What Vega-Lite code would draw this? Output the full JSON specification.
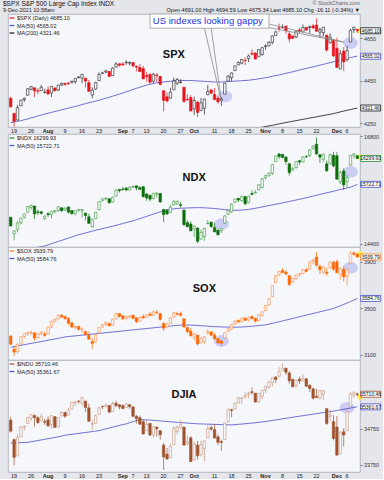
{
"$schema": "https://vega.github.io/schema/vega-lite/v6.json",
"background": "#e4e6ec",
"padding": {"left": 3, "top": 0, "right": 0, "bottom": 0},
"config": {
 "font": "Liberation Sans",
 "view": {"fill": "#f6f7fb", "stroke": "#a4a8b2", "strokeWidth": 0.8},
 "axis": {"labelFont": "Liberation Sans", "labelColor": "#222", "grid": false, "domain": false, "tickColor": "#777", "tickSize": 2, "labelFontSize": 5.3, "title": null},
 "axisY": {"format": "d", "labelOverlap": false, "labelFontSize": 5.4, "labelPadding": 1.5, "labelColor": "#333"},
 "legend": {"orient": "top-left", "title": null, "offset": 1, "padding": 0, "labelFontSize": 5.5, "symbolSize": 22, "symbolStrokeWidth": 1.2, "rowPadding": 0.5, "labelOffset": 2, "symbolType": "stroke", "labelLimit": 200, "labelColor": "#222"}
},
"title": {"text": "$SPX S&P 500 Large Cap Index INDX", "subtitle": "9-Dec-2021 10:58am", "anchor": "start", "frame": "group", "fontSize": 6.5, "fontWeight": "normal", "subtitleFontSize": 5.5, "subtitlePadding": 0.5, "offset": 0, "dx": -5, "dy": 13, "color": "#111", "subtitleColor": "#222"},
"datasets": {
"spx": [
{"d":"2021-07-16","o":4367.4,"h":4375.1,"l":4322.5,"c":4327.2,"m":4252},
{"d":"2021-07-19","o":4296.4,"h":4296.4,"l":4233.1,"c":4258.5,"m":4256},
{"d":"2021-07-20","o":4265.1,"h":4336.8,"l":4262.0,"c":4323.1,"m":4259},
{"d":"2021-07-21","o":4331.1,"h":4359.7,"l":4331.1,"c":4358.7,"m":4262},
{"d":"2021-07-22","o":4361.3,"h":4369.9,"l":4350.1,"c":4367.5,"m":4266},
{"d":"2021-07-23","o":4381.2,"h":4415.2,"l":4381.2,"c":4411.8,"m":4270},
{"d":"2021-07-26","o":4409.6,"h":4422.7,"l":4405.4,"c":4422.3,"m":4275},
{"d":"2021-07-27","o":4416.4,"h":4416.4,"l":4372.5,"c":4401.5,"m":4279},
{"d":"2021-07-28","o":4402.9,"h":4415.5,"l":4387.0,"c":4400.6,"m":4284},
{"d":"2021-07-29","o":4403.6,"h":4429.9,"l":4403.6,"c":4419.2,"m":4288},
{"d":"2021-07-30","o":4395.1,"h":4412.3,"l":4389.9,"c":4395.3,"m":4293},
{"d":"2021-08-02","o":4406.9,"h":4422.2,"l":4384.8,"c":4387.2,"m":4297},
{"d":"2021-08-03","o":4392.7,"h":4423.8,"l":4373.0,"c":4423.2,"m":4301},
{"d":"2021-08-04","o":4415.9,"h":4416.2,"l":4400.2,"c":4402.7,"m":4305},
{"d":"2021-08-05","o":4405.4,"h":4430.0,"l":4402.6,"c":4429.1,"m":4309},
{"d":"2021-08-06","o":4429.1,"h":4440.8,"l":4425.1,"c":4436.5,"m":4313},
{"d":"2021-08-09","o":4437.8,"h":4439.4,"l":4424.7,"c":4432.4,"m":4317},
{"d":"2021-08-10","o":4438.1,"h":4445.2,"l":4430.0,"c":4436.8,"m":4321},
{"d":"2021-08-11","o":4442.2,"h":4449.4,"l":4436.4,"c":4447.7,"m":4325},
{"d":"2021-08-12","o":4446.1,"h":4461.8,"l":4435.5,"c":4460.8,"m":4329},
{"d":"2021-08-13","o":4464.8,"h":4468.4,"l":4460.1,"c":4468.0,"m":4333},
{"d":"2021-08-16","o":4461.7,"h":4480.3,"l":4437.7,"c":4479.7,"m":4338},
{"d":"2021-08-17","o":4462.1,"h":4462.1,"l":4417.8,"c":4448.1,"m":4342},
{"d":"2021-08-18","o":4440.9,"h":4454.3,"l":4397.6,"c":4400.3,"m":4346},
{"d":"2021-08-19","o":4382.4,"h":4418.6,"l":4367.7,"c":4405.8,"m":4350},
{"d":"2021-08-20","o":4410.6,"h":4444.4,"l":4406.8,"c":4441.7,"m":4354},
{"d":"2021-08-23","o":4450.3,"h":4489.9,"l":4450.3,"c":4479.5,"m":4358},
{"d":"2021-08-24","o":4484.4,"h":4492.8,"l":4482.7,"c":4486.2,"m":4363},
{"d":"2021-08-25","o":4490.5,"h":4501.7,"l":4485.7,"c":4496.2,"m":4368},
{"d":"2021-08-26","o":4493.8,"h":4495.9,"l":4468.9,"c":4470.0,"m":4372},
{"d":"2021-08-27","o":4474.1,"h":4513.3,"l":4474.1,"c":4509.4,"m":4377},
{"d":"2021-08-30","o":4513.8,"h":4537.4,"l":4513.8,"c":4528.8,"m":4382},
{"d":"2021-08-31","o":4529.8,"h":4531.4,"l":4515.8,"c":4522.7,"m":4387},
{"d":"2021-09-01","o":4528.8,"h":4537.1,"l":4522.0,"c":4524.1,"m":4392},
{"d":"2021-09-02","o":4534.5,"h":4545.9,"l":4524.7,"c":4536.9,"m":4398},
{"d":"2021-09-03","o":4532.4,"h":4541.5,"l":4521.9,"c":4535.4,"m":4403},
{"d":"2021-09-07","o":4535.4,"h":4535.4,"l":4513.0,"c":4520.0,"m":4409},
{"d":"2021-09-08","o":4518.1,"h":4521.8,"l":4493.9,"c":4514.1,"m":4414},
{"d":"2021-09-09","o":4513.0,"h":4529.9,"l":4492.1,"c":4493.3,"m":4419},
{"d":"2021-09-10","o":4506.9,"h":4520.5,"l":4457.7,"c":4458.6,"m":4424},
{"d":"2021-09-13","o":4474.8,"h":4492.0,"l":4445.7,"c":4468.7,"m":4429},
{"d":"2021-09-14","o":4479.3,"h":4485.7,"l":4435.5,"c":4443.1,"m":4433},
{"d":"2021-09-15","o":4447.5,"h":4486.9,"l":4438.4,"c":4480.7,"m":4437},
{"d":"2021-09-16","o":4477.1,"h":4485.9,"l":4443.8,"c":4473.8,"m":4440},
{"d":"2021-09-17","o":4469.7,"h":4471.5,"l":4427.8,"c":4433.0,"m":4442},
{"d":"2021-09-20","o":4402.9,"h":4402.9,"l":4305.9,"c":4357.7,"m":4444},
{"d":"2021-09-21","o":4374.5,"h":4394.9,"l":4348.0,"c":4354.2,"m":4446},
{"d":"2021-09-22","o":4367.4,"h":4416.8,"l":4367.4,"c":4395.6,"m":4447},
{"d":"2021-09-23","o":4406.8,"h":4465.4,"l":4406.8,"c":4449.0,"m":4449},
{"d":"2021-09-24","o":4438.0,"h":4463.1,"l":4430.3,"c":4455.5,"m":4450},
{"d":"2021-09-27","o":4442.1,"h":4457.3,"l":4436.2,"c":4443.1,"m":4451},
{"d":"2021-09-28","o":4419.5,"h":4419.5,"l":4346.3,"c":4352.6,"m":4451},
{"d":"2021-09-29","o":4362.4,"h":4385.6,"l":4355.1,"c":4359.5,"m":4451},
{"d":"2021-09-30","o":4370.7,"h":4382.6,"l":4306.2,"c":4307.5,"m":4451},
{"d":"2021-10-01","o":4317.2,"h":4375.2,"l":4288.5,"c":4357.0,"m":4450},
{"d":"2021-10-04","o":4348.8,"h":4355.5,"l":4278.9,"c":4300.5,"m":4449},
{"d":"2021-10-05","o":4309.9,"h":4369.2,"l":4309.9,"c":4345.7,"m":4448},
{"d":"2021-10-06","o":4319.6,"h":4365.6,"l":4290.5,"c":4363.6,"m":4447},
{"d":"2021-10-07","o":4383.7,"h":4430.0,"l":4383.7,"c":4399.8,"m":4446},
{"d":"2021-10-08","o":4406.5,"h":4412.0,"l":4386.2,"c":4391.3,"m":4445},
{"d":"2021-10-11","o":4385.4,"h":4415.9,"l":4360.6,"c":4361.2,"m":4444},
{"d":"2021-10-12","o":4368.3,"h":4374.9,"l":4342.1,"c":4350.7,"m":4444},
{"d":"2021-10-13","o":4358.0,"h":4372.9,"l":4329.9,"c":4363.8,"m":4444},
{"d":"2021-10-14","o":4386.8,"h":4439.7,"l":4386.8,"c":4438.3,"m":4445},
{"d":"2021-10-15","o":4447.7,"h":4475.8,"l":4447.7,"c":4471.4,"m":4446},
{"d":"2021-10-18","o":4463.7,"h":4488.8,"l":4447.5,"c":4486.5,"m":4447},
{"d":"2021-10-19","o":4497.3,"h":4520.4,"l":4496.4,"c":4519.6,"m":4448},
{"d":"2021-10-20","o":4524.4,"h":4540.9,"l":4524.4,"c":4536.2,"m":4449},
{"d":"2021-10-21","o":4532.2,"h":4551.4,"l":4526.9,"c":4549.8,"m":4450},
{"d":"2021-10-22","o":4546.1,"h":4559.7,"l":4524.0,"c":4544.9,"m":4451},
{"d":"2021-10-25","o":4553.7,"h":4572.6,"l":4537.4,"c":4566.5,"m":4452,"m2":4218},
{"d":"2021-10-26","o":4578.7,"h":4598.5,"l":4569.2,"c":4574.8,"m":4454,"m2":4221},
{"d":"2021-10-27","o":4580.2,"h":4584.6,"l":4551.7,"c":4551.7,"m":4456,"m2":4224},
{"d":"2021-10-28","o":4562.8,"h":4597.6,"l":4562.8,"c":4596.4,"m":4459,"m2":4228},
{"d":"2021-10-29","o":4572.9,"h":4608.1,"l":4567.6,"c":4605.4,"m":4461,"m2":4231},
{"d":"2021-11-01","o":4610.6,"h":4620.3,"l":4595.1,"c":4613.7,"m":4464,"m2":4234},
{"d":"2021-11-02","o":4613.3,"h":4635.2,"l":4613.3,"c":4630.7,"m":4467,"m2":4237},
{"d":"2021-11-03","o":4630.7,"h":4663.5,"l":4621.2,"c":4660.6,"m":4471,"m2":4240},
{"d":"2021-11-04","o":4662.9,"h":4683.0,"l":4662.6,"c":4680.1,"m":4474,"m2":4243},
{"d":"2021-11-05","o":4699.3,"h":4718.5,"l":4681.3,"c":4697.5,"m":4477,"m2":4247},
{"d":"2021-11-08","o":4701.5,"h":4714.9,"l":4694.4,"c":4701.7,"m":4481,"m2":4250},
{"d":"2021-11-09","o":4707.3,"h":4708.5,"l":4670.9,"c":4685.3,"m":4485,"m2":4253},
{"d":"2021-11-10","o":4670.3,"h":4684.9,"l":4630.9,"c":4646.7,"m":4488,"m2":4256},
{"d":"2021-11-11","o":4659.4,"h":4664.6,"l":4648.3,"c":4649.3,"m":4492,"m2":4259},
{"d":"2021-11-12","o":4655.2,"h":4688.5,"l":4650.9,"c":4682.9,"m":4496,"m2":4262},
{"d":"2021-11-15","o":4689.3,"h":4697.4,"l":4672.9,"c":4682.8,"m":4500,"m2":4265},
{"d":"2021-11-16","o":4679.4,"h":4715.0,"l":4679.4,"c":4700.9,"m":4504,"m2":4268},
{"d":"2021-11-17","o":4701.5,"h":4701.5,"l":4684.4,"c":4688.7,"m":4508,"m2":4271},
{"d":"2021-11-18","o":4700.7,"h":4708.8,"l":4672.8,"c":4704.5,"m":4512,"m2":4274},
{"d":"2021-11-19","o":4708.4,"h":4717.8,"l":4694.2,"c":4698.0,"m":4515,"m2":4277},
{"d":"2021-11-22","o":4712.0,"h":4743.8,"l":4682.2,"c":4682.9,"m":4519,"m2":4280},
{"d":"2021-11-23","o":4678.5,"h":4699.4,"l":4652.7,"c":4690.7,"m":4523,"m2":4283},
{"d":"2021-11-24","o":4675.8,"h":4702.9,"l":4659.9,"c":4701.5,"m":4527,"m2":4286},
{"d":"2021-11-26","o":4664.6,"h":4664.6,"l":4585.4,"c":4594.6,"m":4531,"m2":4289},
{"d":"2021-11-29","o":4628.8,"h":4673.0,"l":4625.3,"c":4655.3,"m":4535,"m2":4292},
{"d":"2021-11-30","o":4640.2,"h":4646.0,"l":4560.0,"c":4567.0,"m":4539,"m2":4295},
{"d":"2021-12-01","o":4602.8,"h":4652.9,"l":4510.3,"c":4513.0,"m":4543,"m2":4299},
{"d":"2021-12-02","o":4504.7,"h":4595.5,"l":4504.7,"c":4577.1,"m":4547,"m2":4303},
{"d":"2021-12-03","o":4589.5,"h":4608.0,"l":4495.1,"c":4538.4,"m":4551,"m2":4307},
{"d":"2021-12-06","o":4548.4,"h":4612.6,"l":4540.5,"c":4591.7,"m":4555,"m2":4311},
{"d":"2021-12-07","o":4632.0,"h":4694.0,"l":4632.0,"c":4686.8,"m":4559,"m2":4314},
{"d":"2021-12-08","o":4690.9,"h":4705.1,"l":4674.5,"c":4701.2,"m":4562,"m2":4318},
{"d":"2021-12-09","o":4691.0,"h":4694.6,"l":4675.3,"c":4685.1,"m":4566,"m2":4321}
],
"ndx": [
{"d":"2021-07-16","o":14990,"h":15000,"l":14780,"c":14796,"m":14200},
{"d":"2021-07-19","o":14620,"h":14700,"l":14480,"c":14684,"m":14215},
{"d":"2021-07-20","o":14720,"h":14900,"l":14650,"c":14862,"m":14230},
{"d":"2021-07-21","o":14870,"h":14980,"l":14830,"c":14974,"m":14245},
{"d":"2021-07-22","o":14990,"h":15070,"l":14960,"c":15063,"m":14260},
{"d":"2021-07-23","o":15100,"h":15235,"l":15090,"c":15228,"m":14275},
{"d":"2021-07-26","o":15210,"h":15265,"l":15160,"c":15258,"m":14290},
{"d":"2021-07-27","o":15240,"h":15245,"l":14950,"c":15063,"m":14305},
{"d":"2021-07-28","o":15110,"h":15160,"l":15040,"c":15095,"m":14320},
{"d":"2021-07-29","o":15110,"h":15135,"l":15050,"c":15079,"m":14335},
{"d":"2021-07-30","o":14960,"h":15040,"l":14930,"c":15011,"m":14350},
{"d":"2021-08-02","o":15070,"h":15100,"l":15000,"c":15047,"m":14375},
{"d":"2021-08-03","o":15050,"h":15125,"l":14960,"c":15123,"m":14400},
{"d":"2021-08-04","o":15110,"h":15150,"l":15090,"c":15138,"m":14425},
{"d":"2021-08-05","o":15140,"h":15230,"l":15120,"c":15224,"m":14450},
{"d":"2021-08-06","o":15200,"h":15210,"l":15110,"c":15136,"m":14475},
{"d":"2021-08-09","o":15150,"h":15210,"l":15130,"c":15193,"m":14500},
{"d":"2021-08-10","o":15220,"h":15230,"l":15070,"c":15103,"m":14525},
{"d":"2021-08-11","o":15140,"h":15150,"l":15040,"c":15072,"m":14550},
{"d":"2021-08-12","o":15070,"h":15140,"l":15030,"c":15136,"m":14575},
{"d":"2021-08-13","o":15150,"h":15170,"l":15110,"c":15164,"m":14600},
{"d":"2021-08-16","o":15130,"h":15170,"l":14980,"c":15162,"m":14620},
{"d":"2021-08-17","o":15080,"h":15090,"l":14920,"c":15027,"m":14640},
{"d":"2021-08-18","o":15000,"h":15070,"l":14850,"c":14855,"m":14660},
{"d":"2021-08-19","o":14780,"h":14960,"l":14760,"c":14935,"m":14680},
{"d":"2021-08-20","o":14960,"h":15110,"l":14950,"c":15100,"m":14700},
{"d":"2021-08-23","o":15160,"h":15350,"l":15150,"c":15339,"m":14718},
{"d":"2021-08-24","o":15360,"h":15410,"l":15340,"c":15398,"m":14736},
{"d":"2021-08-25","o":15400,"h":15430,"l":15370,"c":15417,"m":14754},
{"d":"2021-08-26","o":15400,"h":15420,"l":15300,"c":15311,"m":14772},
{"d":"2021-08-27","o":15330,"h":15450,"l":15320,"c":15436,"m":14790},
{"d":"2021-08-30","o":15460,"h":15610,"l":15460,"c":15594,"m":14810},
{"d":"2021-08-31","o":15610,"h":15615,"l":15540,"c":15582,"m":14830},
{"d":"2021-09-01","o":15620,"h":15670,"l":15590,"c":15605,"m":14850},
{"d":"2021-09-02","o":15640,"h":15660,"l":15570,"c":15598,"m":14870},
{"d":"2021-09-03","o":15600,"h":15680,"l":15580,"c":15653,"m":14890},
{"d":"2021-09-07","o":15660,"h":15700,"l":15640,"c":15675,"m":14910},
{"d":"2021-09-08","o":15690,"h":15700,"l":15590,"c":15646,"m":14935},
{"d":"2021-09-09","o":15650,"h":15690,"l":15600,"c":15612,"m":14960},
{"d":"2021-09-10","o":15670,"h":15690,"l":15430,"c":15449,"m":14985},
{"d":"2021-09-13","o":15510,"h":15520,"l":15360,"c":15419,"m":15010},
{"d":"2021-09-14","o":15480,"h":15490,"l":15340,"c":15394,"m":15035},
{"d":"2021-09-15","o":15410,"h":15530,"l":15380,"c":15525,"m":15060},
{"d":"2021-09-16","o":15500,"h":15550,"l":15430,"c":15527,"m":15085},
{"d":"2021-09-17","o":15520,"h":15530,"l":15310,"c":15331,"m":15110},
{"d":"2021-09-20","o":15160,"h":15180,"l":14880,"c":15051,"m":15135},
{"d":"2021-09-21","o":15140,"h":15170,"l":15040,"c":15066,"m":15160},
{"d":"2021-09-22","o":15100,"h":15270,"l":15090,"c":15216,"m":15170},
{"d":"2021-09-23","o":15270,"h":15370,"l":15250,"c":15342,"m":15178},
{"d":"2021-09-24","o":15290,"h":15360,"l":15270,"c":15345,"m":15185},
{"d":"2021-09-27","o":15270,"h":15330,"l":15200,"c":15252,"m":15190},
{"d":"2021-09-28","o":15150,"h":15160,"l":14800,"c":14824,"m":15194},
{"d":"2021-09-29","o":14870,"h":14920,"l":14760,"c":14780,"m":15197},
{"d":"2021-09-30","o":14840,"h":14900,"l":14680,"c":14689,"m":15200},
{"d":"2021-10-01","o":14730,"h":14810,"l":14550,"c":14791,"m":15202},
{"d":"2021-10-04","o":14750,"h":14760,"l":14410,"c":14455,"m":15204},
{"d":"2021-10-05","o":14500,"h":14720,"l":14500,"c":14652,"m":15203},
{"d":"2021-10-06","o":14560,"h":14760,"l":14460,"c":14743,"m":15200},
{"d":"2021-10-07","o":14850,"h":14930,"l":14830,"c":14855,"m":15196},
{"d":"2021-10-08","o":14880,"h":14890,"l":14760,"c":14780,"m":15190},
{"d":"2021-10-11","o":14760,"h":14860,"l":14660,"c":14664,"m":15184},
{"d":"2021-10-12","o":14700,"h":14720,"l":14580,"c":14602,"m":15176},
{"d":"2021-10-13","o":14690,"h":14750,"l":14640,"c":14736,"m":15168},
{"d":"2021-10-14","o":14860,"h":15030,"l":14850,"c":15020,"m":15160},
{"d":"2021-10-15","o":15060,"h":15150,"l":15040,"c":15146,"m":15153},
{"d":"2021-10-18","o":15110,"h":15300,"l":15090,"c":15283,"m":15147},
{"d":"2021-10-19","o":15320,"h":15400,"l":15310,"c":15397,"m":15145},
{"d":"2021-10-20","o":15410,"h":15420,"l":15330,"c":15374,"m":15146},
{"d":"2021-10-21","o":15360,"h":15470,"l":15340,"c":15460,"m":15150},
{"d":"2021-10-22","o":15450,"h":15470,"l":15260,"c":15290,"m":15156},
{"d":"2021-10-25","o":15320,"h":15470,"l":15300,"c":15457,"m":15165},
{"d":"2021-10-26","o":15520,"h":15590,"l":15480,"c":15500,"m":15176},
{"d":"2021-10-27","o":15530,"h":15600,"l":15520,"c":15545,"m":15190},
{"d":"2021-10-28","o":15600,"h":15720,"l":15590,"c":15714,"m":15205},
{"d":"2021-10-29","o":15650,"h":15860,"l":15640,"c":15850,"m":15220},
{"d":"2021-11-01","o":15870,"h":15940,"l":15830,"c":15918,"m":15235},
{"d":"2021-11-02","o":15920,"h":15990,"l":15890,"c":15975,"m":15250},
{"d":"2021-11-03","o":15970,"h":16180,"l":15930,"c":16163,"m":15265},
{"d":"2021-11-04","o":16230,"h":16360,"l":16220,"c":16352,"m":15280},
{"d":"2021-11-05","o":16400,"h":16420,"l":16290,"c":16345,"m":15295},
{"d":"2021-11-08","o":16390,"h":16400,"l":16300,"c":16322,"m":15310},
{"d":"2021-11-09","o":16330,"h":16350,"l":16160,"c":16232,"m":15326},
{"d":"2021-11-10","o":16180,"h":16200,"l":15920,"c":15986,"m":15342},
{"d":"2021-11-11","o":16040,"h":16110,"l":16030,"c":16071,"m":15358},
{"d":"2021-11-12","o":16100,"h":16240,"l":16070,"c":16229,"m":15374},
{"d":"2021-11-15","o":16250,"h":16270,"l":16160,"c":16223,"m":15390},
{"d":"2021-11-16","o":16220,"h":16350,"l":16210,"c":16331,"m":15408},
{"d":"2021-11-17","o":16340,"h":16380,"l":16310,"c":16339,"m":15426},
{"d":"2021-11-18","o":16370,"h":16510,"l":16330,"c":16494,"m":15444},
{"d":"2021-11-19","o":16520,"h":16600,"l":16500,"c":16573,"m":15462},
{"d":"2021-11-22","o":16620,"h":16765,"l":16390,"c":16398,"m":15480},
{"d":"2021-11-23","o":16380,"h":16400,"l":16200,"c":16331,"m":15498},
{"d":"2021-11-24","o":16280,"h":16410,"l":16220,"c":16396,"m":15516},
{"d":"2021-11-26","o":16180,"h":16250,"l":16000,"c":16026,"m":15534},
{"d":"2021-11-29","o":16180,"h":16410,"l":16170,"c":16383,"m":15552},
{"d":"2021-11-30","o":16370,"h":16450,"l":16100,"c":16135,"m":15570},
{"d":"2021-12-01","o":16360,"h":16440,"l":15830,"c":15838,"m":15588},
{"d":"2021-12-02","o":15780,"h":16030,"l":15730,"c":15987,"m":15606},
{"d":"2021-12-03","o":16020,"h":16080,"l":15600,"c":15712,"m":15624},
{"d":"2021-12-06","o":15790,"h":15930,"l":15650,"c":15875,"m":15642},
{"d":"2021-12-07","o":16150,"h":16380,"l":16140,"c":16363,"m":15660},
{"d":"2021-12-08","o":16370,"h":16420,"l":16300,"c":16398,"m":15690},
{"d":"2021-12-09","o":16360,"h":16370,"l":16290,"c":16300,"m":15720}
],
"sox": [
{"d":"2021-07-16","o":3262,"h":3270,"l":3185,"c":3192,"m":3166},
{"d":"2021-07-19","o":3150,"h":3180,"l":3090,"c":3125,"m":3172},
{"d":"2021-07-20","o":3130,"h":3200,"l":3110,"c":3190,"m":3177},
{"d":"2021-07-21","o":3195,"h":3262,"l":3190,"c":3255,"m":3183},
{"d":"2021-07-22","o":3258,"h":3290,"l":3240,"c":3280,"m":3188},
{"d":"2021-07-23","o":3285,"h":3300,"l":3262,"c":3290,"m":3194},
{"d":"2021-07-26","o":3288,"h":3310,"l":3270,"c":3295,"m":3199},
{"d":"2021-07-27","o":3290,"h":3292,"l":3220,"c":3245,"m":3205},
{"d":"2021-07-28","o":3250,"h":3290,"l":3240,"c":3280,"m":3210},
{"d":"2021-07-29","o":3285,"h":3305,"l":3270,"c":3298,"m":3216},
{"d":"2021-07-30","o":3280,"h":3300,"l":3255,"c":3268,"m":3221},
{"d":"2021-08-02","o":3280,"h":3345,"l":3275,"c":3338,"m":3227},
{"d":"2021-08-03","o":3340,"h":3395,"l":3330,"c":3388,"m":3232},
{"d":"2021-08-04","o":3390,"h":3415,"l":3380,"c":3405,"m":3238},
{"d":"2021-08-05","o":3410,"h":3448,"l":3402,"c":3440,"m":3243},
{"d":"2021-08-06","o":3440,"h":3452,"l":3418,"c":3425,"m":3249},
{"d":"2021-08-09","o":3428,"h":3440,"l":3400,"c":3412,"m":3255},
{"d":"2021-08-10","o":3415,"h":3420,"l":3360,"c":3372,"m":3258},
{"d":"2021-08-11","o":3375,"h":3385,"l":3330,"c":3340,"m":3261},
{"d":"2021-08-12","o":3335,"h":3355,"l":3318,"c":3345,"m":3264},
{"d":"2021-08-13","o":3345,"h":3350,"l":3312,"c":3320,"m":3267},
{"d":"2021-08-16","o":3315,"h":3338,"l":3290,"c":3326,"m":3270},
{"d":"2021-08-17","o":3300,"h":3310,"l":3262,"c":3275,"m":3273},
{"d":"2021-08-18","o":3270,"h":3300,"l":3230,"c":3235,"m":3276},
{"d":"2021-08-19","o":3215,"h":3245,"l":3150,"c":3200,"m":3279},
{"d":"2021-08-20","o":3210,"h":3280,"l":3205,"c":3275,"m":3282},
{"d":"2021-08-23","o":3290,"h":3340,"l":3285,"c":3335,"m":3285},
{"d":"2021-08-24","o":3340,"h":3365,"l":3335,"c":3358,"m":3288},
{"d":"2021-08-25","o":3360,"h":3385,"l":3350,"c":3378,"m":3291},
{"d":"2021-08-26","o":3370,"h":3378,"l":3345,"c":3350,"m":3294},
{"d":"2021-08-27","o":3355,"h":3410,"l":3352,"c":3405,"m":3297},
{"d":"2021-08-30","o":3410,"h":3462,"l":3405,"c":3455,"m":3300},
{"d":"2021-08-31","o":3455,"h":3460,"l":3420,"c":3430,"m":3303},
{"d":"2021-09-01","o":3435,"h":3445,"l":3400,"c":3410,"m":3306},
{"d":"2021-09-02","o":3415,"h":3438,"l":3395,"c":3428,"m":3309},
{"d":"2021-09-03","o":3425,"h":3440,"l":3412,"c":3435,"m":3312},
{"d":"2021-09-07","o":3440,"h":3448,"l":3405,"c":3415,"m":3315},
{"d":"2021-09-08","o":3418,"h":3425,"l":3375,"c":3385,"m":3318},
{"d":"2021-09-09","o":3390,"h":3430,"l":3385,"c":3422,"m":3321},
{"d":"2021-09-10","o":3430,"h":3450,"l":3410,"c":3418,"m":3324},
{"d":"2021-09-13","o":3425,"h":3450,"l":3420,"c":3445,"m":3327},
{"d":"2021-09-14","o":3450,"h":3470,"l":3430,"c":3440,"m":3330},
{"d":"2021-09-15","o":3440,"h":3478,"l":3435,"c":3470,"m":3333},
{"d":"2021-09-16","o":3468,"h":3485,"l":3450,"c":3465,"m":3336},
{"d":"2021-09-17","o":3455,"h":3460,"l":3395,"c":3405,"m":3339},
{"d":"2021-09-20","o":3370,"h":3385,"l":3305,"c":3330,"m":3342},
{"d":"2021-09-21","o":3340,"h":3375,"l":3330,"c":3365,"m":3345},
{"d":"2021-09-22","o":3370,"h":3425,"l":3365,"c":3418,"m":3348},
{"d":"2021-09-23","o":3425,"h":3470,"l":3420,"c":3462,"m":3351},
{"d":"2021-09-24","o":3455,"h":3470,"l":3435,"c":3450,"m":3354},
{"d":"2021-09-27","o":3455,"h":3472,"l":3430,"c":3440,"m":3356},
{"d":"2021-09-28","o":3410,"h":3412,"l":3330,"c":3340,"m":3357},
{"d":"2021-09-29","o":3335,"h":3345,"l":3285,"c":3300,"m":3357},
{"d":"2021-09-30","o":3305,"h":3330,"l":3260,"c":3265,"m":3356},
{"d":"2021-10-01","o":3250,"h":3290,"l":3225,"c":3280,"m":3355},
{"d":"2021-10-04","o":3270,"h":3275,"l":3180,"c":3195,"m":3353},
{"d":"2021-10-05","o":3205,"h":3250,"l":3200,"c":3240,"m":3351},
{"d":"2021-10-06","o":3215,"h":3260,"l":3195,"c":3255,"m":3349},
{"d":"2021-10-07","o":3285,"h":3320,"l":3275,"c":3300,"m":3347},
{"d":"2021-10-08","o":3298,"h":3305,"l":3260,"c":3270,"m":3345},
{"d":"2021-10-11","o":3270,"h":3290,"l":3235,"c":3238,"m":3343},
{"d":"2021-10-12","o":3240,"h":3245,"l":3195,"c":3205,"m":3342},
{"d":"2021-10-13","o":3220,"h":3230,"l":3180,"c":3200,"m":3341},
{"d":"2021-10-14","o":3245,"h":3295,"l":3240,"c":3290,"m":3340},
{"d":"2021-10-15","o":3300,"h":3330,"l":3295,"c":3325,"m":3339},
{"d":"2021-10-18","o":3320,"h":3365,"l":3310,"c":3360,"m":3338},
{"d":"2021-10-19","o":3365,"h":3395,"l":3360,"c":3390,"m":3338},
{"d":"2021-10-20","o":3395,"h":3405,"l":3370,"c":3385,"m":3339},
{"d":"2021-10-21","o":3385,"h":3420,"l":3380,"c":3415,"m":3340},
{"d":"2021-10-22","o":3415,"h":3425,"l":3390,"c":3398,"m":3342},
{"d":"2021-10-25","o":3400,"h":3430,"l":3390,"c":3420,"m":3344},
{"d":"2021-10-26","o":3430,"h":3440,"l":3405,"c":3412,"m":3346},
{"d":"2021-10-27","o":3415,"h":3418,"l":3380,"c":3390,"m":3349},
{"d":"2021-10-28","o":3395,"h":3450,"l":3392,"c":3445,"m":3352},
{"d":"2021-10-29","o":3440,"h":3475,"l":3430,"c":3470,"m":3355},
{"d":"2021-11-01","o":3480,"h":3530,"l":3475,"c":3525,"m":3358},
{"d":"2021-11-02","o":3530,"h":3590,"l":3525,"c":3582,"m":3364},
{"d":"2021-11-03","o":3600,"h":3700,"l":3595,"c":3695,"m":3371},
{"d":"2021-11-04","o":3720,"h":3790,"l":3715,"c":3780,"m":3378},
{"d":"2021-11-05","o":3790,"h":3825,"l":3775,"c":3815,"m":3385},
{"d":"2021-11-08","o":3825,"h":3845,"l":3800,"c":3808,"m":3392},
{"d":"2021-11-09","o":3810,"h":3830,"l":3780,"c":3795,"m":3399},
{"d":"2021-11-10","o":3780,"h":3785,"l":3690,"c":3705,"m":3406},
{"d":"2021-11-11","o":3730,"h":3760,"l":3720,"c":3755,"m":3413},
{"d":"2021-11-12","o":3755,"h":3790,"l":3745,"c":3785,"m":3421},
{"d":"2021-11-15","o":3790,"h":3805,"l":3770,"c":3798,"m":3428},
{"d":"2021-11-16","o":3800,"h":3840,"l":3795,"c":3832,"m":3435},
{"d":"2021-11-17","o":3830,"h":3845,"l":3810,"c":3818,"m":3442},
{"d":"2021-11-18","o":3835,"h":3905,"l":3830,"c":3895,"m":3449},
{"d":"2021-11-19","o":3900,"h":3925,"l":3880,"c":3915,"m":3456},
{"d":"2021-11-22","o":3940,"h":3985,"l":3860,"c":3870,"m":3463},
{"d":"2021-11-23","o":3860,"h":3875,"l":3795,"c":3830,"m":3470},
{"d":"2021-11-24","o":3810,"h":3860,"l":3790,"c":3855,"m":3477},
{"d":"2021-11-26","o":3810,"h":3850,"l":3780,"c":3800,"m":3484},
{"d":"2021-11-29","o":3850,"h":3905,"l":3840,"c":3900,"m":3491},
{"d":"2021-11-30","o":3895,"h":3910,"l":3820,"c":3835,"m":3499},
{"d":"2021-12-01","o":3900,"h":3920,"l":3800,"c":3805,"m":3510},
{"d":"2021-12-02","o":3790,"h":3850,"l":3745,"c":3840,"m":3522},
{"d":"2021-12-03","o":3835,"h":3860,"l":3730,"c":3770,"m":3534},
{"d":"2021-12-06","o":3775,"h":3840,"l":3690,"c":3835,"m":3546},
{"d":"2021-12-07","o":3890,"h":3990,"l":3885,"c":3975,"m":3558},
{"d":"2021-12-08","o":3975,"h":3990,"l":3950,"c":3965,"m":3571},
{"d":"2021-12-09","o":3965,"h":3975,"l":3935,"c":3940,"m":3585}
],
"dji": [
{"d":"2021-07-16","o":34990,"h":35090,"l":34650,"c":34687,"m":34360},
{"d":"2021-07-19","o":34450,"h":34480,"l":33740,"c":33962,"m":34363},
{"d":"2021-07-20","o":34000,"h":34600,"l":33990,"c":34512,"m":34366},
{"d":"2021-07-21","o":34530,"h":34830,"l":34530,"c":34798,"m":34369},
{"d":"2021-07-22","o":34800,"h":34840,"l":34700,"c":34823,"m":34372},
{"d":"2021-07-23","o":34900,"h":35080,"l":34900,"c":35062,"m":34376},
{"d":"2021-07-26","o":35050,"h":35150,"l":34970,"c":35144,"m":34393},
{"d":"2021-07-27","o":35120,"h":35150,"l":34810,"c":35059,"m":34410},
{"d":"2021-07-28","o":35060,"h":35100,"l":34880,"c":34930,"m":34427},
{"d":"2021-07-29","o":34970,"h":35170,"l":34970,"c":35085,"m":34444},
{"d":"2021-07-30","o":34950,"h":35030,"l":34860,"c":34935,"m":34461},
{"d":"2021-08-02","o":35000,"h":35100,"l":34800,"c":34838,"m":34478},
{"d":"2021-08-03","o":34860,"h":35120,"l":34750,"c":35117,"m":34495},
{"d":"2021-08-04","o":35090,"h":35100,"l":34770,"c":34793,"m":34512},
{"d":"2021-08-05","o":34800,"h":35070,"l":34800,"c":35065,"m":34530},
{"d":"2021-08-06","o":35110,"h":35240,"l":35100,"c":35209,"m":34550},
{"d":"2021-08-09","o":35200,"h":35230,"l":35050,"c":35102,"m":34575},
{"d":"2021-08-10","o":35130,"h":35340,"l":35130,"c":35265,"m":34588},
{"d":"2021-08-11","o":35300,"h":35510,"l":35300,"c":35485,"m":34600},
{"d":"2021-08-12","o":35480,"h":35520,"l":35380,"c":35500,"m":34612},
{"d":"2021-08-13","o":35520,"h":35540,"l":35450,"c":35515,"m":34625},
{"d":"2021-08-16","o":35460,"h":35630,"l":35380,"c":35626,"m":34637},
{"d":"2021-08-17","o":35520,"h":35530,"l":35220,"c":35343,"m":34650},
{"d":"2021-08-18","o":35330,"h":35450,"l":34960,"c":34961,"m":34662},
{"d":"2021-08-19","o":34880,"h":35010,"l":34720,"c":34894,"m":34675},
{"d":"2021-08-20","o":34900,"h":35150,"l":34880,"c":35120,"m":34688},
{"d":"2021-08-23","o":35150,"h":35360,"l":35150,"c":35336,"m":34702},
{"d":"2021-08-24","o":35370,"h":35400,"l":35300,"c":35367,"m":34726},
{"d":"2021-08-25","o":35370,"h":35460,"l":35370,"c":35406,"m":34750},
{"d":"2021-08-26","o":35400,"h":35400,"l":35200,"c":35214,"m":34774},
{"d":"2021-08-27","o":35230,"h":35510,"l":35230,"c":35456,"m":34798},
{"d":"2021-08-30","o":35460,"h":35530,"l":35350,"c":35400,"m":34822},
{"d":"2021-08-31","o":35420,"h":35430,"l":35290,"c":35361,"m":34846},
{"d":"2021-09-01","o":35390,"h":35440,"l":35300,"c":35313,"m":34870},
{"d":"2021-09-02","o":35340,"h":35460,"l":35330,"c":35444,"m":34889},
{"d":"2021-09-03","o":35420,"h":35440,"l":35310,"c":35369,"m":34920},
{"d":"2021-09-07","o":35360,"h":35370,"l":35070,"c":35100,"m":34950},
{"d":"2021-09-08","o":35100,"h":35130,"l":34900,"c":35031,"m":34980},
{"d":"2021-09-09","o":35060,"h":35120,"l":34870,"c":34879,"m":35009},
{"d":"2021-09-10","o":34950,"h":35000,"l":34600,"c":34608,"m":35005},
{"d":"2021-09-13","o":34700,"h":35000,"l":34690,"c":34870,"m":35000},
{"d":"2021-09-14","o":34900,"h":34910,"l":34560,"c":34578,"m":34994},
{"d":"2021-09-15","o":34580,"h":34830,"l":34500,"c":34814,"m":34987},
{"d":"2021-09-16","o":34800,"h":34810,"l":34530,"c":34751,"m":34980},
{"d":"2021-09-17","o":34700,"h":34700,"l":34450,"c":34584,"m":34972},
{"d":"2021-09-20","o":34300,"h":34360,"l":33610,"c":33970,"m":34963},
{"d":"2021-09-21","o":34050,"h":34220,"l":33880,"c":33919,"m":34953},
{"d":"2021-09-22","o":33950,"h":34340,"l":33950,"c":34258,"m":34946},
{"d":"2021-09-23","o":34310,"h":34830,"l":34310,"c":34765,"m":34939},
{"d":"2021-09-24","o":34680,"h":34850,"l":34600,"c":34798,"m":34932},
{"d":"2021-09-27","o":34800,"h":35000,"l":34750,"c":34870,"m":34925},
{"d":"2021-09-28","o":34800,"h":34800,"l":34280,"c":34300,"m":34918},
{"d":"2021-09-29","o":34340,"h":34570,"l":34300,"c":34391,"m":34911},
{"d":"2021-09-30","o":34500,"h":34550,"l":33840,"c":33844,"m":34904},
{"d":"2021-10-01","o":33900,"h":34400,"l":33860,"c":34326,"m":34897},
{"d":"2021-10-04","o":34300,"h":34420,"l":33900,"c":34003,"m":34890},
{"d":"2021-10-05","o":34030,"h":34430,"l":33980,"c":34315,"m":34887},
{"d":"2021-10-06","o":34200,"h":34430,"l":33850,"c":34417,"m":34884},
{"d":"2021-10-07","o":34500,"h":34850,"l":34500,"c":34755,"m":34881},
{"d":"2021-10-08","o":34780,"h":34850,"l":34700,"c":34746,"m":34878},
{"d":"2021-10-11","o":34730,"h":34880,"l":34490,"c":34496,"m":34875},
{"d":"2021-10-12","o":34530,"h":34600,"l":34300,"c":34378,"m":34872},
{"d":"2021-10-13","o":34400,"h":34450,"l":34140,"c":34377,"m":34869},
{"d":"2021-10-14","o":34450,"h":34930,"l":34450,"c":34912,"m":34866},
{"d":"2021-10-15","o":34950,"h":35320,"l":34950,"c":35295,"m":34863},
{"d":"2021-10-18","o":35280,"h":35310,"l":35070,"c":35259,"m":34861},
{"d":"2021-10-19","o":35300,"h":35480,"l":35300,"c":35457,"m":34868},
{"d":"2021-10-20","o":35470,"h":35650,"l":35450,"c":35609,"m":34876},
{"d":"2021-10-21","o":35600,"h":35620,"l":35450,"c":35603,"m":34884},
{"d":"2021-10-22","o":35630,"h":35770,"l":35600,"c":35677,"m":34892},
{"d":"2021-10-25","o":35710,"h":35780,"l":35600,"c":35741,"m":34900},
{"d":"2021-10-26","o":35780,"h":35900,"l":35700,"c":35757,"m":34910},
{"d":"2021-10-27","o":35740,"h":35750,"l":35490,"c":35491,"m":34920},
{"d":"2021-10-28","o":35500,"h":35730,"l":35480,"c":35731,"m":34932},
{"d":"2021-10-29","o":35640,"h":35820,"l":35570,"c":35820,"m":34943},
{"d":"2021-11-01","o":35830,"h":35960,"l":35740,"c":35913,"m":34953},
{"d":"2021-11-02","o":35900,"h":36070,"l":35880,"c":36053,"m":34968},
{"d":"2021-11-03","o":36040,"h":36170,"l":35930,"c":36158,"m":34983},
{"d":"2021-11-04","o":36190,"h":36200,"l":36020,"c":36124,"m":34998},
{"d":"2021-11-05","o":36210,"h":36470,"l":36190,"c":36328,"m":35013},
{"d":"2021-11-08","o":36370,"h":36570,"l":36370,"c":36432,"m":35028},
{"d":"2021-11-09","o":36430,"h":36440,"l":36250,"c":36320,"m":35043},
{"d":"2021-11-10","o":36300,"h":36360,"l":36000,"c":36080,"m":35058},
{"d":"2021-11-11","o":36120,"h":36150,"l":35900,"c":35921,"m":35072},
{"d":"2021-11-12","o":35950,"h":36110,"l":35900,"c":36100,"m":35087},
{"d":"2021-11-15","o":36130,"h":36200,"l":36000,"c":36087,"m":35101},
{"d":"2021-11-16","o":36080,"h":36270,"l":36070,"c":36143,"m":35115},
{"d":"2021-11-17","o":36140,"h":36150,"l":35920,"c":35931,"m":35130},
{"d":"2021-11-18","o":35960,"h":35980,"l":35770,"c":35871,"m":35144},
{"d":"2021-11-19","o":35860,"h":35890,"l":35560,"c":35602,"m":35158},
{"d":"2021-11-22","o":35650,"h":35860,"l":35600,"c":35619,"m":35172},
{"d":"2021-11-23","o":35600,"h":35830,"l":35570,"c":35814,"m":35187},
{"d":"2021-11-24","o":35700,"h":35830,"l":35550,"c":35804,"m":35201},
{"d":"2021-11-26","o":35310,"h":35320,"l":34860,"c":34899,"m":35215},
{"d":"2021-11-29","o":35100,"h":35290,"l":34960,"c":35136,"m":35229},
{"d":"2021-11-30","o":34950,"h":35130,"l":34430,"c":34484,"m":35243},
{"d":"2021-12-01","o":34800,"h":35100,"l":34010,"c":34022,"m":35260},
{"d":"2021-12-02","o":34060,"h":34690,"l":34060,"c":34640,"m":35277},
{"d":"2021-12-03","o":34670,"h":34770,"l":34260,"c":34580,"m":35294},
{"d":"2021-12-06","o":34700,"h":35280,"l":34700,"c":35227,"m":35311},
{"d":"2021-12-07","o":35380,"h":35780,"l":35380,"c":35719,"m":35328},
{"d":"2021-12-08","o":35690,"h":35800,"l":35620,"c":35754,"m":35345},
{"d":"2021-12-09","o":35720,"h":35760,"l":35650,"c":35710,"m":35362}
]
},
"spacing": 7,
"bounds": "flush",
"resolve": {"scale": {"color": "independent"}, "legend": {"color": "independent"}},
"vconcat": [
{
 "width": 352, "height": 113,
 "data": {"name": "spx"},
 "title": {"text": "© StockCharts.com", "subtitle": "Open 4691.00  High 4694.59  Low 4675.34  Last 4685.10  Chg -16.11 (-0.34%) ▼", "anchor": "end", "frame": "group", "fontSize": 5.5, "fontWeight": "normal", "subtitleFontSize": 5.5, "subtitlePadding": 1, "offset": 0.5, "color": "#666", "subtitleColor": "#111"},
 "encoding": {"x": {"field": "d", "type": "ordinal", "scale": {"type": "band", "paddingInner": 0, "paddingOuter": 0.3},
   "axis": {"values": ["2021-07-19","2021-07-26","2021-08-02","2021-08-09","2021-08-16","2021-08-23","2021-09-01","2021-09-07","2021-09-13","2021-09-20","2021-09-27","2021-10-01","2021-10-11","2021-10-18","2021-10-25","2021-11-01","2021-11-08","2021-11-15","2021-11-22","2021-12-01","2021-12-06"],
   "labelExpr": "datum.value=='2021-08-02'?'Aug':datum.value=='2021-09-01'?'Sep':datum.value=='2021-10-01'?'Oct':datum.value=='2021-11-01'?'Nov':datum.value=='2021-12-01'?'Dec':toString(toNumber(substring(datum.value,8,10)))",
   "labelAngle": 0, "ticks": false, "labelPadding": 1, "labelFontSize": 5.5,
   "labelFontWeight": {"condition": {"test": "indexof(['2021-08-02','2021-09-01','2021-10-01','2021-11-01','2021-12-01'], datum.value) >= 0", "value": "bold"}, "value": "normal"}}}},
 "layer": [
  {"data": {"values": [{}]}, "mark": {"type": "point", "shape": "M-1,0A1,0.78 0 1,0 1,0A1,0.78 0 1,0 -1,0Z", "filled": true, "color": "#c4c5f0", "opacity": 0.85, "size": 220}, "encoding": {"x": {"datum": "2021-10-14"}, "y": {"datum": 4376}}},
  {"data": {"values": [{}]}, "mark": {"type": "point", "shape": "M-1,0A1,0.78 0 1,0 1,0A1,0.78 0 1,0 -1,0Z", "filled": true, "color": "#c4c5f0", "opacity": 0.85, "size": 220}, "encoding": {"x": {"datum": "2021-12-07"}, "y": {"datum": 4627}}},
  {"data": {"values": [{}]}, "mark": {"type": "point", "shape": "square", "filled": true, "color": "#ffe94a", "opacity": 1, "size": 26, "xOffset": 3}, "encoding": {"x": {"datum": "2021-12-09"}, "y": {"datum": 4685.1}}},
  {"mark": {"type": "line", "strokeWidth": 0.8, "clip": true}, "encoding": {"y": {"field": "m2", "type": "quantitative", "title": null, "scale": {"domain": [4232, 4764], "nice": false, "zero": false}, "axis": {"orient": "right", "values": [4250,4300,4350,4400,4450,4500,4550,4600,4650,4700,4750], "labelOverlap": false, "format": "d"}}, "color": {"datum": "MA(200) 4321.46", "type": "nominal", "scale": {"domain": ["$SPX (Daily) 4685.10", "MA(50) 4565.02", "MA(200) 4321.46"], "range": ["#e8141c", "#4b4bc8", "#111111"]}}}},
  {"mark": {"type": "line", "strokeWidth": 0.8, "clip": true}, "encoding": {"y": {"field": "m", "type": "quantitative", "title": null}, "color": {"datum": "MA(50) 4565.02", "type": "nominal"}}},
  {"mark": {"type": "rule", "strokeWidth": 0.7, "clip": true}, "encoding": {"y": {"field": "l", "type": "quantitative", "title": null}, "y2": {"field": "h"}, "stroke": {"condition": {"test": "datum.c >= datum.o", "value": "#222"}, "value": "#e8141c"}}},
  {"mark": {"type": "bar", "width": {"band": 0.72}, "strokeWidth": 0.6, "clip": true}, "encoding": {"y": {"field": "o", "type": "quantitative", "title": null}, "y2": {"field": "c"}, "fill": {"condition": {"test": "datum.c >= datum.o", "value": "#f6f7fb"}, "value": "#e8141c"}, "stroke": {"condition": {"test": "datum.c >= datum.o", "value": "#222"}, "value": "#e8141c"}}},
  {"data": {"values": [{}]}, "mark": {"type": "rule", "color": "#8a8a8a", "strokeWidth": 0.8}, "encoding": {"x": {"datum": "2021-10-06"}, "x2": {"datum": "2021-10-13"}, "y": {"datum": 4698}, "y2": {"datum": 4354}}},
  {"data": {"values": [{}]}, "mark": {"type": "rule", "color": "#8a8a8a", "strokeWidth": 0.8}, "encoding": {"x": {"datum": "2021-10-08"}, "x2": {"datum": "2021-10-13"}, "y": {"datum": 4698}, "y2": {"datum": 4354}}},
  {"data": {"values": [{}]}, "mark": {"type": "rule", "color": "#8a8a8a", "strokeWidth": 0.8}, "encoding": {"x": {"datum": "2021-11-02"}, "x2": {"datum": "2021-12-03"}, "y": {"datum": 4717}, "y2": {"datum": 4632}}},
  {"data": {"values": [{}]}, "mark": {"type": "rule", "color": "#8a8a8a", "strokeWidth": 0.8}, "encoding": {"x": {"datum": "2021-11-02"}, "x2": {"datum": "2021-12-03"}, "y": {"datum": 4700}, "y2": {"datum": 4632}}},
  {"data": {"values": [{}]}, "mark": {"type": "rect", "fill": "#ffffff", "stroke": "#9a9a9a", "strokeWidth": 0.8}, "encoding": {"x": {"datum": "2021-09-14"}, "x2": {"datum": "2021-11-02"}, "y": {"datum": 4697}, "y2": {"datum": 4764}}},
  {"data": {"values": [{}]}, "mark": {"type": "text", "fontSize": 9.5, "color": "#2233dd", "align": "center", "baseline": "middle"}, "encoding": {"x": {"datum": "2021-10-07"}, "y": {"datum": 4731}, "text": {"value": "US indexes looking gappy"}}},
  {"data": {"values": [{}]}, "mark": {"type": "text", "fontSize": 11, "fontWeight": "bold", "color": "#111", "align": "center", "baseline": "middle"}, "encoding": {"x": {"datum": "2021-09-23"}, "y": {"datum": 4571}, "text": {"value": "SPX"}}},
  {"data": {"values": [{"k": "c", "v": 4685.10}, {"k": "m", "v": 4565.02}, {"k": "m2", "v": 4321.46}]}, "mark": {"type": "point", "shape": "M-1,-0.3H1V0.3H-1Z", "filled": true, "fill": "#fbfbfd", "size": 400, "strokeWidth": 0.8, "xOffset": 13.4, "opacity": 1}, "encoding": {"x": {"datum": "2021-12-09"}, "y": {"field": "v", "type": "quantitative", "title": null}, "stroke": {"condition": {"test": "datum.k == 'm'", "value": "#4b4bc8"}, "value": "#111"}}},
  {"data": {"values": [{"k": "c", "v": 4685.10}, {"k": "m", "v": 4565.02}, {"k": "m2", "v": 4321.46}]}, "mark": {"type": "text", "fontSize": 5, "xOffset": 13.4, "align": "center", "baseline": "middle", "color": "#111"}, "encoding": {"x": {"datum": "2021-12-09"}, "y": {"field": "v", "type": "quantitative", "title": null}, "text": {"field": "v", "type": "quantitative", "format": ".2f"}}}
 ]
},
{
 "vconcat": [
 {
  "width": 352, "height": 113,
  "data": {"name": "ndx"},
  "encoding": {"x": {"field": "d", "type": "ordinal", "scale": {"type": "band", "paddingInner": 0, "paddingOuter": 0.3}, "axis": null}},
  "layer": [
   {"data": {"values": [{}]}, "mark": {"type": "point", "shape": "M-1,0A1,0.78 0 1,0 1,0A1,0.78 0 1,0 -1,0Z", "filled": true, "color": "#c4c5f0", "opacity": 0.85, "size": 220}, "encoding": {"x": {"datum": "2021-10-13"}, "y": {"datum": 14833}}},
   {"data": {"values": [{}]}, "mark": {"type": "point", "shape": "M-1,0A1,0.78 0 1,0 1,0A1,0.78 0 1,0 -1,0Z", "filled": true, "color": "#c4c5f0", "opacity": 0.85, "size": 220}, "encoding": {"x": {"datum": "2021-12-07"}, "y": {"datum": 16005}}},
   {"data": {"values": [{}]}, "mark": {"type": "point", "shape": "square", "filled": true, "color": "#ffe94a", "opacity": 1, "size": 26, "xOffset": 3}, "encoding": {"x": {"datum": "2021-12-09"}, "y": {"datum": 16330}}},
   {"mark": {"type": "line", "strokeWidth": 0.8, "clip": true}, "encoding": {"y": {"field": "m", "type": "quantitative", "title": null, "scale": {"domain": [14327, 16845], "nice": false, "zero": false}, "axis": {"orient": "right", "values": [14400,14600,14800,15000,15200,15400,15600,15800,16000,16200,16400,16600,16800], "labelOverlap": false, "format": "d"}}, "color": {"datum": "MA(50) 15722.71", "type": "nominal", "scale": {"domain": ["$NDX 16299.93", "MA(50) 15722.71"], "range": ["#1f8a1f", "#4b4bc8"]}}}},
   {"mark": {"type": "rule", "strokeWidth": 0.7, "clip": true}, "encoding": {"y": {"field": "l", "type": "quantitative", "title": null}, "y2": {"field": "h"}, "stroke": {"condition": {"test": "datum.c >= datum.o", "value": "#3a9a3a"}, "value": "#0b6e0b"}}},
   {"mark": {"type": "bar", "width": {"band": 0.72}, "strokeWidth": 0.6, "clip": true}, "encoding": {"y": {"field": "o", "type": "quantitative", "title": null}, "y2": {"field": "c"}, "fill": {"condition": {"test": "datum.c >= datum.o", "value": "#f6f7fb"}, "value": "#0b6e0b"}, "stroke": {"condition": {"test": "datum.c >= datum.o", "value": "#3a9a3a"}, "value": "#0b6e0b"}}},
   {"data": {"values": [{}]}, "mark": {"type": "text", "fontSize": 11, "fontWeight": "bold", "color": "#111", "align": "center", "baseline": "middle"}, "encoding": {"x": {"datum": "2021-10-01"}, "y": {"datum": 15871}, "text": {"value": "NDX"}}},
   {"data": {"values": [{"k": "c", "v": 16299.93}, {"k": "m", "v": 15722.71}]}, "mark": {"type": "point", "shape": "M-1,-0.3H1V0.3H-1Z", "filled": true, "fill": "#fbfbfd", "size": 400, "strokeWidth": 0.8, "xOffset": 13.4, "opacity": 1}, "encoding": {"x": {"datum": "2021-12-09"}, "y": {"field": "v", "type": "quantitative", "title": null}, "stroke": {"condition": {"test": "datum.k == 'm'", "value": "#4b4bc8"}, "value": "#1f8a1f"}}},
   {"data": {"values": [{"k": "c", "v": 16299.93}, {"k": "m", "v": 15722.71}]}, "mark": {"type": "text", "fontSize": 5, "xOffset": 13.4, "align": "center", "baseline": "middle", "color": "#111"}, "encoding": {"x": {"datum": "2021-12-09"}, "y": {"field": "v", "type": "quantitative", "title": null}, "text": {"field": "v", "type": "quantitative", "format": ".2f"}}}
  ]
 },
 {
  "width": 352, "height": 113,
  "data": {"name": "sox"},
  "encoding": {"x": {"field": "d", "type": "ordinal", "scale": {"type": "band", "paddingInner": 0, "paddingOuter": 0.3}, "axis": null}},
  "layer": [
   {"data": {"values": [{}]}, "mark": {"type": "point", "shape": "M-1,0A1,0.78 0 1,0 1,0A1,0.78 0 1,0 -1,0Z", "filled": true, "color": "#c4c5f0", "opacity": 0.85, "size": 220}, "encoding": {"x": {"datum": "2021-10-13"}, "y": {"datum": 3220}}},
   {"data": {"values": [{}]}, "mark": {"type": "point", "shape": "M-1,0A1,0.78 0 1,0 1,0A1,0.78 0 1,0 -1,0Z", "filled": true, "color": "#c4c5f0", "opacity": 0.85, "size": 220}, "encoding": {"x": {"datum": "2021-12-07"}, "y": {"datum": 3848}}},
   {"data": {"values": [{}]}, "mark": {"type": "point", "shape": "square", "filled": true, "color": "#ffe94a", "opacity": 1, "size": 26, "xOffset": 3}, "encoding": {"x": {"datum": "2021-12-09"}, "y": {"datum": 3965}}},
   {"mark": {"type": "line", "strokeWidth": 0.8, "clip": true}, "encoding": {"y": {"field": "m", "type": "quantitative", "title": null, "scale": {"domain": [3057, 4026], "nice": false, "zero": false}, "axis": {"orient": "right", "values": [3100,3200,3300,3400,3500,3600,3700,3800,3900,4000], "labelOverlap": false, "format": "d"}}, "color": {"datum": "MA(50) 3584.76", "type": "nominal", "scale": {"domain": ["$SOX 3939.79", "MA(50) 3584.76"], "range": ["#ff7a1a", "#4b4bc8"]}}}},
   {"mark": {"type": "rule", "strokeWidth": 0.7, "clip": true}, "encoding": {"y": {"field": "l", "type": "quantitative", "title": null}, "y2": {"field": "h"}, "stroke": {"condition": {"test": "datum.c >= datum.o", "value": "#ff8c42"}, "value": "#ff6600"}}},
   {"mark": {"type": "bar", "width": {"band": 0.72}, "strokeWidth": 0.6, "clip": true}, "encoding": {"y": {"field": "o", "type": "quantitative", "title": null}, "y2": {"field": "c"}, "fill": {"condition": {"test": "datum.c >= datum.o", "value": "#f6f7fb"}, "value": "#ff6600"}, "stroke": {"condition": {"test": "datum.c >= datum.o", "value": "#ff8c42"}, "value": "#ff6600"}}},
   {"data": {"values": [{}]}, "mark": {"type": "text", "fontSize": 11, "fontWeight": "bold", "color": "#111", "align": "center", "baseline": "middle"}, "encoding": {"x": {"datum": "2021-10-06"}, "y": {"datum": 3663}, "text": {"value": "SOX"}}},
   {"data": {"values": [{"k": "c", "v": 3939.79}, {"k": "m", "v": 3584.76}]}, "mark": {"type": "point", "shape": "M-1,-0.3H1V0.3H-1Z", "filled": true, "fill": "#fbfbfd", "size": 400, "strokeWidth": 0.8, "xOffset": 13.4, "opacity": 1}, "encoding": {"x": {"datum": "2021-12-09"}, "y": {"field": "v", "type": "quantitative", "title": null}, "stroke": {"condition": {"test": "datum.k == 'm'", "value": "#4b4bc8"}, "value": "#ff7a1a"}}},
   {"data": {"values": [{"k": "c", "v": 3939.79}, {"k": "m", "v": 3584.76}]}, "mark": {"type": "text", "fontSize": 5, "xOffset": 13.4, "align": "center", "baseline": "middle", "color": "#111"}, "encoding": {"x": {"datum": "2021-12-09"}, "y": {"field": "v", "type": "quantitative", "title": null}, "text": {"field": "v", "type": "quantitative", "format": ".2f"}}}
  ]
 },
 {
  "width": 352, "height": 112,
  "data": {"name": "dji"},
  "encoding": {"x": {"field": "d", "type": "ordinal", "scale": {"type": "band", "paddingInner": 0, "paddingOuter": 0.3},
   "axis": {"values": ["2021-07-19","2021-07-26","2021-08-02","2021-08-09","2021-08-16","2021-08-23","2021-09-01","2021-09-07","2021-09-13","2021-09-20","2021-09-27","2021-10-01","2021-10-11","2021-10-18","2021-10-25","2021-11-01","2021-11-08","2021-11-15","2021-11-22","2021-12-01","2021-12-06"],
   "labelExpr": "datum.value=='2021-08-02'?'Aug':datum.value=='2021-09-01'?'Sep':datum.value=='2021-10-01'?'Oct':datum.value=='2021-11-01'?'Nov':datum.value=='2021-12-01'?'Dec':toString(toNumber(substring(datum.value,8,10)))",
   "labelAngle": 0, "ticks": false, "labelPadding": 1, "labelFontSize": 5.5,
   "labelFontWeight": {"condition": {"test": "indexof(['2021-08-02','2021-09-01','2021-10-01','2021-11-01','2021-12-01'], datum.value) >= 0", "value": "bold"}, "value": "normal"}}}},
  "layer": [
   {"data": {"values": [{}]}, "mark": {"type": "point", "shape": "M-1,0A1,0.78 0 1,0 1,0A1,0.78 0 1,0 -1,0Z", "filled": true, "color": "#c4c5f0", "opacity": 0.85, "size": 220}, "encoding": {"x": {"datum": "2021-12-06"}, "y": {"datum": 35336}}},
   {"data": {"values": [{}]}, "mark": {"type": "point", "shape": "square", "filled": true, "color": "#ffe94a", "opacity": 1, "size": 26, "xOffset": 3}, "encoding": {"x": {"datum": "2021-12-09"}, "y": {"datum": 35640}}},
   {"mark": {"type": "line", "strokeWidth": 0.8, "clip": true}, "encoding": {"y": {"field": "m", "type": "quantitative", "title": null, "scale": {"domain": [33554, 36660], "nice": false, "zero": false}, "axis": {"orient": "right", "values": [33750,34000,34250,34500,34750,35000,35250,35500,35750,36000,36250,36500], "labelOverlap": false, "format": "d"}}, "color": {"datum": "MA(50) 35361.67", "type": "nominal", "scale": {"domain": ["$INDU 35710.46", "MA(50) 35361.67"], "range": ["#a0522d", "#4b4bc8"]}}}},
   {"mark": {"type": "rule", "strokeWidth": 0.7, "clip": true}, "encoding": {"y": {"field": "l", "type": "quantitative", "title": null}, "y2": {"field": "h"}, "stroke": {"condition": {"test": "datum.c >= datum.o", "value": "#c89478"}, "value": "#a0522d"}}},
   {"mark": {"type": "bar", "width": {"band": 0.72}, "strokeWidth": 0.6, "clip": true}, "encoding": {"y": {"field": "o", "type": "quantitative", "title": null}, "y2": {"field": "c"}, "fill": {"condition": {"test": "datum.c >= datum.o", "value": "#f6f7fb"}, "value": "#a0522d"}, "stroke": {"condition": {"test": "datum.c >= datum.o", "value": "#c89478"}, "value": "#a0522d"}}},
   {"data": {"values": [{}]}, "mark": {"type": "text", "fontSize": 11, "fontWeight": "bold", "color": "#111", "align": "center", "baseline": "middle"}, "encoding": {"x": {"datum": "2021-09-28"}, "y": {"datum": 35680}, "text": {"value": "DJIA"}}},
   {"data": {"values": [{"k": "c", "v": 35710.46}, {"k": "m", "v": 35361.67}]}, "mark": {"type": "point", "shape": "M-1,-0.3H1V0.3H-1Z", "filled": true, "fill": "#fbfbfd", "size": 400, "strokeWidth": 0.8, "xOffset": 13.4, "opacity": 1}, "encoding": {"x": {"datum": "2021-12-09"}, "y": {"field": "v", "type": "quantitative", "title": null}, "stroke": {"condition": {"test": "datum.k == 'm'", "value": "#4b4bc8"}, "value": "#a0522d"}}},
   {"data": {"values": [{"k": "c", "v": 35710.46}, {"k": "m", "v": 35361.67}]}, "mark": {"type": "text", "fontSize": 5, "xOffset": 13.4, "align": "center", "baseline": "middle", "color": "#111"}, "encoding": {"x": {"datum": "2021-12-09"}, "y": {"field": "v", "type": "quantitative", "title": null}, "text": {"field": "v", "type": "quantitative", "format": ".2f"}}}
  ]
 }
 ],
 "spacing": 0,
 "bounds": "flush",
 "resolve": {"scale": {"color": "independent"}, "legend": {"color": "independent"}}
}
]
}
